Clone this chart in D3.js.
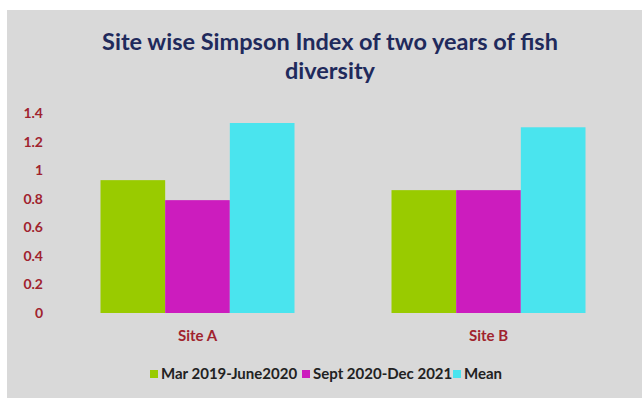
<!DOCTYPE html>
<html>
<head>
<meta charset="utf-8">
<script src="https://cdn.jsdelivr.net/npm/d3@7"></script>
<style>
  body { margin: 0; background: #fff; }
  svg text { font-family: Lato, "Open Sans", sans-serif; font-weight: bold; }
</style>
</head>
<body>
<svg id="chart" width="642" height="398"></svg>
<script>
// chart data
const sites = ["Site A", "Site B"];
const series = ["Mar 2019-June2020", "Sept 2020-Dec 2021", "Mean"];
const seriesColors = ["#99cb00", "#cc1cbe", "#4ae4ee"];
const period1 = [0.93, 0.86];
const period2 = [0.79, 0.86];
const meanVals = [1.33, 1.30];
const yTicks = [0, 0.2, 0.4, 0.6, 0.8, 1, 1.2, 1.4];
const titleLines = ["Site wise Simpson Index of two years of fish", "diversity"];

const values = [period1, period2, meanVals];
const rows = sites.map((s, i) => ({ site: s, vals: series.map((k, j) => ({ key: k, v: values[j][i] })) }));

const svg = d3.select("#chart");

// grey chart area
svg.append("rect").attr("x", 7).attr("y", 10).attr("width", 635).attr("height", 388).attr("fill", "#d9d9d9");

// title
svg.append("g").selectAll("text")
    .data(titleLines)
    .join("text")
    .attr("x", 330).attr("y", (d, i) => 50 + i * 29)
    .attr("text-anchor", "middle")
    .attr("fill", "#1f2a5c")
    .style("font-size", "23.5px")
    .text(d => d);

// scales
const y = d3.scaleLinear().domain([0, 1.4]).range([313, 113]);
const x0 = d3.scaleBand().domain(sites).range([52, 634]).paddingInner(1 / 3).paddingOuter(1 / 6);
const x1 = d3.scaleBand().domain(series).range([0, x0.bandwidth()]);
const color = d3.scaleOrdinal().domain(series).range(seriesColors);

// y axis labels (no line, no ticks)
const yAxis = svg.append("g").attr("transform", "translate(43,0)")
    .call(d3.axisLeft(y).tickValues(yTicks).tickFormat(d3.format("")).tickSize(0).tickPadding(0));
yAxis.select(".domain").remove();
yAxis.selectAll("text").attr("fill", "#a0232e").style("font-size", "14px").style("font-family", "Lato, sans-serif");

// bars
svg.append("g").selectAll("g")
    .data(rows)
    .join("g")
    .attr("transform", d => `translate(${x0(d.site)},0)`)
    .selectAll("rect")
    .data(d => d.vals)
    .join("rect")
    .attr("x", d => x1(d.key))
    .attr("width", x1.bandwidth())
    .attr("y", d => y(d.v))
    .attr("height", d => y(0) - y(d.v))
    .attr("fill", d => color(d.key));

// x axis labels
const xAxis = svg.append("g").attr("transform", "translate(0,330)")
    .call(d3.axisBottom(x0).tickSize(0).tickPadding(0));
xAxis.select(".domain").remove();
xAxis.selectAll("text").attr("fill", "#a0232e").style("font-size", "15px").style("font-family", "Lato, sans-serif");

// legend
const legendX = [150, 302, 453];
const legend = svg.append("g").selectAll("g")
    .data(series)
    .join("g")
    .attr("transform", (d, i) => `translate(${legendX[i]},374)`);
legend.append("rect").attr("x", 0).attr("y", -4).attr("width", 8).attr("height", 8).attr("fill", d => color(d));
legend.append("text").attr("x", 11).attr("dy", "0.35em").attr("fill", "#222")
    .style("font-size", "15px").text(d => d);
</script>
</body>
</html>
